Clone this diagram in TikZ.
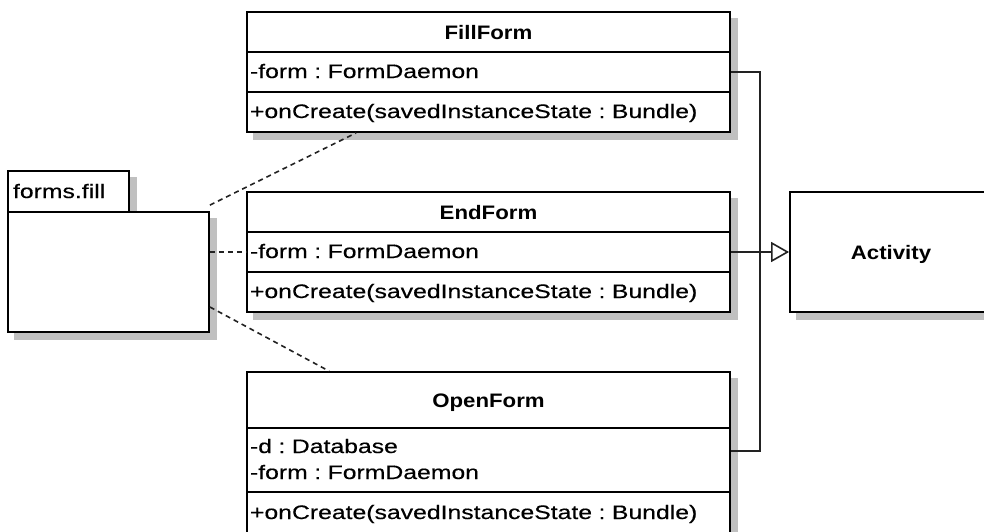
\documentclass[tikz,border=0pt]{standalone}
\usepackage{fontspec}
\newfontfamily\umlregular{Liberation Sans}[FakeStretch=1.27, FakeBold=0.4]
\newfontfamily\umlbold{Liberation Sans}[FakeStretch=1.14]
\usetikzlibrary{arrows.meta,backgrounds}
\frenchspacing

\definecolor{shadowgray}{HTML}{C0C0C0}
\definecolor{linegray}{HTML}{222222}

\begin{document}
\begin{tikzpicture}[x=1pt, y=-1pt,
  box/.style={draw=black, line width=1.8pt, fill=white, inner sep=0pt},
  hdr/.style={box, minimum width=483pt, minimum height=40pt,
    font=\umlbold\bfseries\fontsize{19.5}{24}\selectfont,
    text height=14pt, text depth=0pt},
  cmp/.style={box, text width=477pt, align=left, inner xsep=3pt, inner ysep=0pt,
    minimum height=40pt, font=\umlregular\fontsize{19.5}{26}\selectfont,
    text height=15pt, text depth=3pt},
  shade/.style={fill=shadowgray},
  conn/.style={draw=linegray, line width=1.6pt},
  dep/.style={draw=linegray, line width=1.6pt, dash pattern=on 5pt off 4pt},
  gen/.style={conn, -{Triangle[open, length=18pt, width=20pt, line width=1.6pt, fill=white]}}
]
\useasboundingbox (0,0) rectangle (984,531);

% package forms.fill
\node[box, minimum width=121pt, minimum height=41pt, text width=111pt,
      align=left, inner xsep=5pt, inner ysep=0pt,
      font=\umlregular\fontsize{19.5}{24}\selectfont,
      text height=14pt, text depth=1pt] (pkg-tab) at (68.5,191.5) {forms.fill};
\node[box, minimum width=201pt, minimum height=120pt] (pkg) at (108.5,272) {};

% class FillForm
\node[hdr] (fill-h) at (488.5,32) {FillForm};
\node[cmp] (fill-a) at (488.5,72) {-form : FormDaemon};
\node[cmp] (fill-o) at (488.5,112) {+onCreate(savedInstanceState : Bundle)};

% class EndForm
\node[hdr] (end-h) at (488.5,212) {EndForm};
\node[cmp] (end-a) at (488.5,252) {-form : FormDaemon};
\node[cmp] (end-o) at (488.5,292) {+onCreate(savedInstanceState : Bundle)};

% class OpenForm
\node[hdr, minimum height=56pt] (open-h) at (488.5,400) {OpenForm};
\node[cmp, minimum height=64pt, text depth=29pt] (open-a) at (488.5,460)
  {-d : Database\\-form : FormDaemon};
\node[cmp, minimum height=42pt] (open-o) at (488.5,513)
  {+onCreate(savedInstanceState : Bundle)};

% class Activity
\node[box, minimum width=202pt, minimum height=120pt,
      font=\umlbold\bfseries\fontsize{19.5}{24}\selectfont,
      text height=14pt, text depth=0pt] (act) at (891,252) {Activity};

% drop shadows
\begin{scope}[on background layer]
  \fill[white] (0,0) rectangle (984,531);
  \fill[shade] ([shift={(7,7)}]pkg-tab.north west) rectangle ([shift={(7,7)}]pkg-tab.south east);
  \fill[shade] ([shift={(7,7)}]pkg.north west) rectangle ([shift={(7,7)}]pkg.south east);
  \fill[shade] ([shift={(7,7)}]fill-h.north west) rectangle ([shift={(7,7)}]fill-o.south east);
  \fill[shade] ([shift={(7,7)}]end-h.north west) rectangle ([shift={(7,7)}]end-o.south east);
  \fill[shade] ([shift={(7,7)}]open-h.north west) rectangle ([shift={(7,7)}]open-o.south east);
  \fill[shade] ([shift={(7,7)}]act.north west) rectangle ([shift={(7,7)}]act.south east);
\end{scope}

% generalization bus towards Activity
\coordinate (bus-t) at (760,72);
\coordinate (bus-b) at (760,451);
\draw[conn] (fill-a.east) -- (bus-t) -- (bus-b) -- (open-a.east |- bus-b);
\draw[gen] (end-a.east) -- (act.west);

% package membership links
\coordinate (pkg-p1) at ([shift={(0,-6)}]pkg.north east);
\coordinate (pkg-p3) at ([shift={(0,35)}]pkg.east);
\draw[dep] (pkg-p1) -- ([shift={(110,0)}]fill-o.south west);
\draw[dep] (pkg.east |- end-a.west) -- (end-a.west);
\draw[dep] (pkg-p3) -- ([shift={(83,0)}]open-h.north west);
\end{tikzpicture}
\end{document}
